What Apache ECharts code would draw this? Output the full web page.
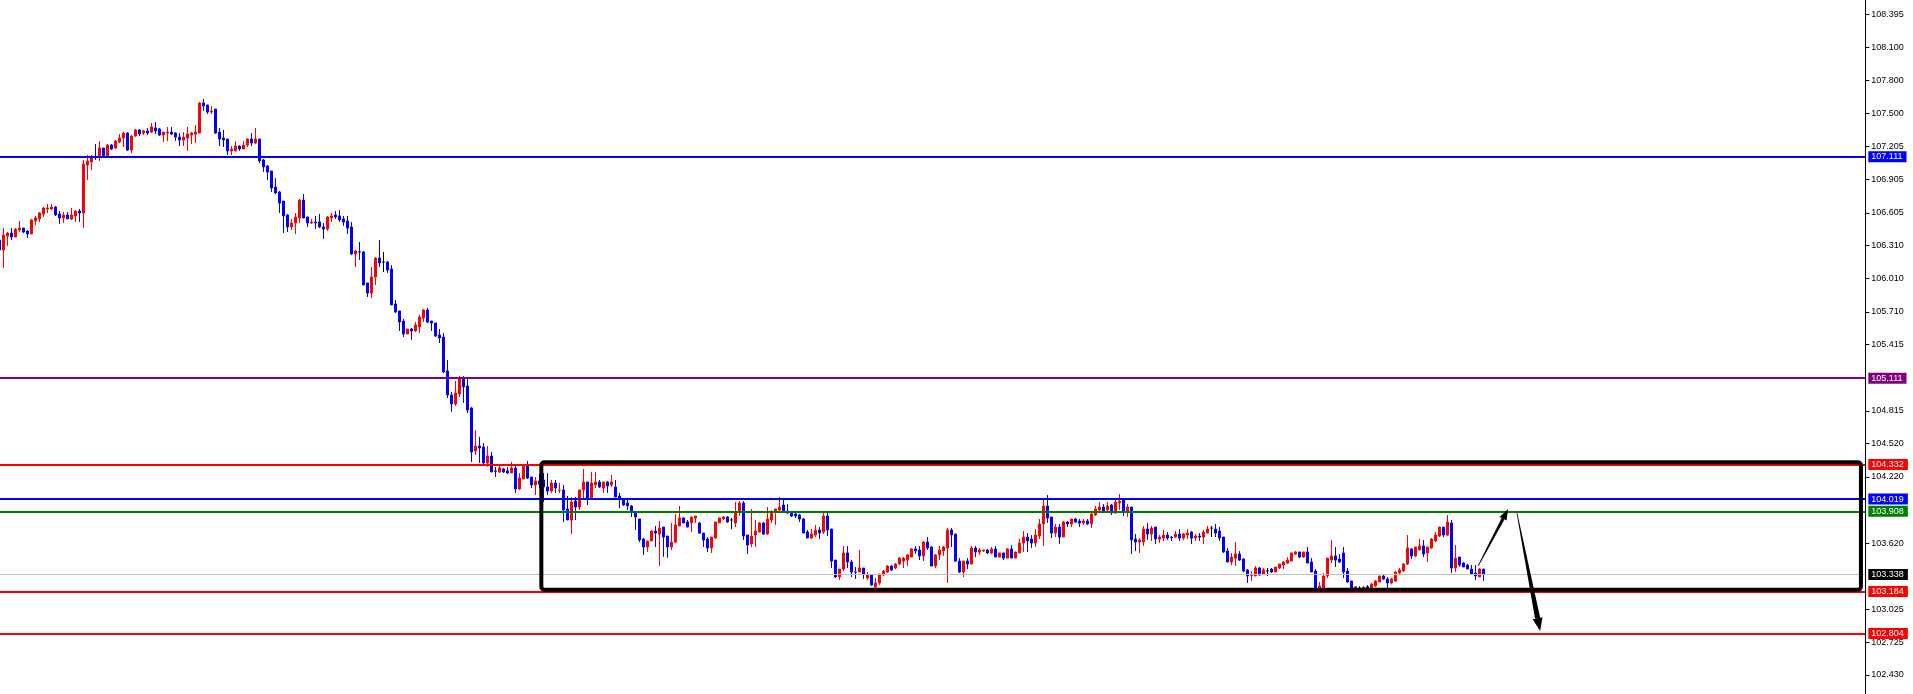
<!DOCTYPE html>
<html>
<head>
<meta charset="utf-8">
<script src="https://cdn.jsdelivr.net/npm/echarts@6.0.0/dist/echarts.min.js"></script>
<style>
html,body{margin:0;padding:0;background:#fff;}
#chart{width:1913px;height:694px;}
</style>
</head>
<body>
<div id="chart"></div>
<script>
// ---- candle values ----
const opens = [
106.359,106.269,106.395,106.422,106.386,106.449,106.467,106.440,106.413,106.531,
106.549,106.594,106.639,106.639,106.657,106.594,106.558,106.585,106.549,106.576,
106.621,106.603,107.037,107.064,107.109,107.109,107.190,107.109,107.217,107.190,
107.244,107.280,107.325,107.172,107.298,107.353,107.325,107.344,107.334,107.371,
107.362,107.307,107.325,107.334,107.325,107.289,107.262,107.280,107.307,107.316,
107.325,107.597,107.579,107.515,107.542,107.334,107.280,107.271,107.163,107.163,
107.208,107.181,107.217,107.271,107.235,107.271,107.082,107.028,106.982,106.838,
106.793,106.711,106.585,106.477,106.513,106.558,106.720,106.567,106.513,106.522,
106.522,106.477,106.458,106.558,106.585,106.576,106.549,106.531,106.477,106.233,
106.252,106.251,105.971,105.880,106.025,106.196,106.160,106.160,106.097,105.781,
105.718,105.627,105.510,105.555,105.537,105.573,105.654,105.727,105.627,105.609,
105.501,105.483,105.176,104.959,104.878,104.968,105.103,105.040,104.841,104.453,
104.498,104.489,104.345,104.408,104.273,104.264,104.291,104.273,104.255,104.300,
104.110,104.200,104.318,104.218,104.146,104.182,104.191,104.128,104.092,104.164,
104.098,104.101,103.929,103.830,104.001,103.947,104.101,104.173,104.028,104.146,
104.173,104.119,104.173,104.146,104.128,104.046,104.019,103.983,103.956,103.893,
103.839,103.658,103.586,103.640,103.730,103.703,103.766,103.685,103.586,103.631,
103.776,103.848,103.812,103.803,103.848,103.803,103.712,103.658,103.577,103.667,
103.803,103.839,103.857,103.830,103.803,103.902,103.983,103.694,103.613,103.694,
103.721,103.803,103.703,103.830,103.911,103.920,103.965,103.911,103.902,103.884,
103.875,103.839,103.721,103.667,103.694,103.739,103.721,103.866,103.748,103.468,
103.315,103.387,103.532,103.450,103.360,103.360,103.396,103.306,103.333,103.225,
103.261,103.333,103.360,103.414,103.396,103.432,103.459,103.468,103.495,103.568,
103.559,103.505,103.631,103.586,103.414,103.514,103.550,103.577,103.739,103.703,
103.459,103.360,103.459,103.432,103.577,103.541,103.550,103.559,103.532,103.568,
103.495,103.532,103.486,103.568,103.486,103.532,103.622,103.676,103.658,103.622,
103.685,103.794,103.956,103.857,103.712,103.766,103.676,103.812,103.794,103.839,
103.821,103.803,103.821,103.794,103.875,103.920,103.947,103.920,103.965,103.893,
103.983,104.019,103.902,103.947,103.658,103.631,103.631,103.748,103.703,103.766,
103.658,103.667,103.694,103.674,103.676,103.703,103.667,103.694,103.721,103.667,
103.685,103.676,103.712,103.757,103.748,103.730,103.676,103.550,103.450,103.486,
103.523,103.477,103.378,103.330,103.324,103.396,103.342,103.369,103.387,103.360,
103.396,103.423,103.441,103.459,103.523,103.541,103.495,103.541,103.450,103.369,
103.215,103.215,103.324,103.468,103.505,103.477,103.532,103.369,103.279,103.213,
103.213,103.213,103.227,103.215,103.233,103.270,103.324,103.297,103.261,103.279,
103.351,103.369,103.432,103.568,103.505,103.559,103.595,103.532,103.577,103.640,
103.685,103.766,103.694,103.803,103.396,103.495,103.441,103.423,103.387,103.351,
103.315,103.387
];
const closes = [
106.269,106.404,106.422,106.386,106.458,106.467,106.431,106.413,106.540,106.558,
106.603,106.648,106.648,106.657,106.585,106.558,106.585,106.549,106.585,106.621,
106.603,107.046,107.073,107.100,107.100,107.190,107.109,107.217,107.181,107.253,
107.280,107.325,107.172,107.298,107.353,107.316,107.344,107.325,107.380,107.344,
107.307,107.334,107.334,107.316,107.289,107.262,107.289,107.316,107.325,107.334,
107.597,107.570,107.515,107.524,107.325,107.271,107.262,107.163,107.181,107.208,
107.181,107.217,107.271,107.235,107.271,107.073,107.019,106.973,106.829,106.784,
106.693,106.576,106.477,106.513,106.567,106.720,106.558,106.513,106.522,106.513,
106.477,106.458,106.567,106.576,106.567,106.540,106.522,106.467,106.233,106.260,
106.250,105.953,105.880,106.025,106.196,106.151,106.160,106.088,105.772,105.709,
105.618,105.510,105.555,105.537,105.591,105.663,105.727,105.618,105.609,105.492,
105.474,105.167,104.959,104.878,104.977,105.103,105.031,104.823,104.444,104.498,
104.480,104.345,104.408,104.264,104.270,104.300,104.264,104.255,104.300,104.110,
104.209,104.318,104.209,104.146,104.182,104.155,104.128,104.092,104.164,104.119,
104.101,103.920,103.830,103.992,103.947,104.101,104.173,104.028,104.164,104.173,
104.128,104.173,104.137,104.173,104.037,104.019,103.965,103.956,103.902,103.857,
103.649,103.586,103.640,103.730,103.712,103.757,103.676,103.586,103.631,103.785,
103.848,103.803,103.766,103.857,103.866,103.712,103.649,103.577,103.676,103.812,
103.848,103.857,103.812,103.830,103.902,103.983,103.685,103.604,103.685,103.730,
103.803,103.703,103.839,103.911,103.929,103.947,103.911,103.893,103.866,103.866,
103.839,103.712,103.667,103.703,103.739,103.712,103.866,103.739,103.459,103.315,
103.387,103.532,103.450,103.360,103.357,103.396,103.342,103.333,103.243,103.261,
103.342,103.369,103.414,103.378,103.432,103.486,103.486,103.514,103.568,103.550,
103.505,103.631,103.577,103.414,103.514,103.559,103.586,103.739,103.694,103.459,
103.360,103.459,103.432,103.577,103.541,103.559,103.559,103.532,103.568,103.495,
103.532,103.486,103.568,103.486,103.541,103.622,103.676,103.640,103.622,103.694,
103.794,103.956,103.848,103.712,103.766,103.676,103.812,103.794,103.839,103.812,
103.803,103.821,103.794,103.884,103.929,103.947,103.902,103.956,103.893,103.992,
104.001,103.902,103.947,103.649,103.631,103.649,103.748,103.703,103.757,103.658,
103.676,103.694,103.667,103.670,103.703,103.667,103.703,103.712,103.667,103.685,
103.676,103.721,103.748,103.757,103.712,103.667,103.541,103.450,103.495,103.523,
103.468,103.369,103.324,103.333,103.396,103.333,103.378,103.369,103.360,103.405,
103.432,103.450,103.468,103.532,103.541,103.495,103.541,103.441,103.360,103.215,
103.233,103.324,103.486,103.505,103.468,103.450,103.360,103.270,103.215,103.227,
103.209,103.222,103.212,103.251,103.279,103.324,103.297,103.261,103.297,103.360,
103.378,103.432,103.577,103.505,103.586,103.595,103.523,103.586,103.658,103.694,
103.766,103.694,103.812,103.396,103.486,103.423,103.405,103.387,103.342,103.324,
103.387,103.338
];
const highs = [
106.377,106.467,106.431,106.467,106.467,106.531,106.467,106.449,106.549,106.576,
106.612,106.657,106.684,106.684,106.666,106.621,106.612,106.612,106.648,106.630,
106.639,107.082,107.127,107.127,107.226,107.253,107.190,107.226,107.226,107.262,
107.316,107.334,107.334,107.307,107.362,107.362,107.353,107.371,107.416,107.425,
107.371,107.334,107.380,107.380,107.334,107.325,107.334,107.380,107.334,107.398,
107.606,107.633,107.579,107.570,107.542,107.371,107.353,107.271,107.208,107.253,
107.217,107.253,107.280,107.325,107.371,107.271,107.091,107.037,106.982,106.919,
106.802,106.711,106.594,106.549,106.603,106.729,106.774,106.567,106.549,106.576,
106.594,106.513,106.576,106.603,106.621,106.630,106.576,106.576,106.522,106.269,
106.341,106.260,105.971,106.115,106.205,106.359,106.251,106.169,106.133,105.817,
105.718,105.645,105.555,105.564,105.618,105.681,105.736,105.745,105.627,105.609,
105.555,105.519,105.275,104.986,105.085,105.130,105.130,105.121,104.850,104.643,
104.580,104.525,104.498,104.444,104.309,104.318,104.300,104.309,104.354,104.318,
104.255,104.318,104.363,104.218,104.218,104.246,104.254,104.254,104.191,104.191,
104.164,104.146,104.047,104.037,104.037,104.101,104.291,104.173,104.264,104.264,
104.191,104.173,104.182,104.237,104.191,104.074,104.028,104.010,103.965,103.893,
103.839,103.667,103.640,103.739,103.776,103.821,103.766,103.685,103.803,103.884,
103.956,103.857,103.830,103.857,103.866,103.812,103.712,103.676,103.676,103.812,
103.848,103.866,103.866,103.848,103.992,104.001,104.001,103.694,103.929,103.830,
103.812,103.812,103.947,103.911,103.929,104.037,104.019,103.974,103.902,103.893,
103.884,103.848,103.739,103.748,103.785,103.766,103.902,103.902,103.748,103.468,
103.387,103.595,103.595,103.468,103.405,103.559,103.396,103.360,103.342,103.306,
103.342,103.378,103.423,103.423,103.441,103.495,103.495,103.523,103.577,103.595,
103.595,103.640,103.676,103.595,103.523,103.595,103.595,103.757,103.757,103.703,
103.486,103.459,103.486,103.595,103.595,103.577,103.559,103.568,103.586,103.595,
103.532,103.532,103.577,103.604,103.541,103.658,103.730,103.712,103.694,103.748,
103.839,104.019,104.056,103.857,103.794,103.794,103.821,103.821,103.839,103.848,
103.839,103.839,103.839,103.893,103.956,103.992,103.974,103.992,103.974,104.019,
104.064,104.028,103.974,103.947,103.703,103.667,103.776,103.803,103.776,103.766,
103.694,103.739,103.721,103.685,103.730,103.748,103.712,103.748,103.730,103.703,
103.712,103.739,103.776,103.776,103.794,103.766,103.676,103.577,103.532,103.631,
103.550,103.486,103.387,103.369,103.414,103.405,103.396,103.396,103.396,103.405,
103.432,103.459,103.495,103.532,103.550,103.541,103.541,103.586,103.486,103.387,
103.270,103.351,103.486,103.649,103.586,103.523,103.586,103.396,103.279,103.233,
103.233,103.233,103.242,103.261,103.288,103.324,103.333,103.315,103.306,103.369,
103.396,103.441,103.694,103.577,103.586,103.658,103.649,103.586,103.667,103.721,
103.766,103.766,103.875,103.830,103.604,103.495,103.450,103.432,103.423,103.423,
103.396,103.387
];
const lows = [
106.251,106.106,106.305,106.359,106.386,106.431,106.422,106.377,106.413,106.495,
106.522,106.567,106.603,106.630,106.576,106.504,106.513,106.549,106.540,106.522,
106.522,106.467,106.901,106.991,107.082,107.073,107.109,107.109,107.172,107.181,
107.235,107.199,107.163,107.145,107.289,107.298,107.307,107.307,107.325,107.316,
107.298,107.244,107.253,107.307,107.253,107.208,107.208,107.163,107.226,107.235,
107.325,107.524,107.497,107.497,107.316,107.208,107.199,107.127,107.127,107.163,
107.163,107.181,107.199,107.208,107.226,107.055,106.973,106.901,106.793,106.775,
106.603,106.422,106.431,106.449,106.413,106.513,106.558,106.477,106.504,106.458,
106.467,106.368,106.440,106.522,106.549,106.522,106.486,106.413,106.224,106.115,
106.178,105.953,105.844,105.835,105.953,106.115,106.070,106.061,105.772,105.700,
105.537,105.483,105.510,105.456,105.528,105.519,105.618,105.609,105.537,105.483,
105.429,105.158,104.932,104.806,104.860,104.941,104.887,104.796,104.354,104.417,
104.345,104.336,104.309,104.264,104.218,104.255,104.255,104.246,104.255,104.074,
104.101,104.200,104.200,104.119,104.056,104.119,103.992,104.056,104.074,104.074,
104.074,103.812,103.830,103.703,103.830,103.920,104.028,103.965,104.010,104.119,
104.119,104.074,104.074,104.128,104.037,103.938,103.956,103.920,103.857,103.739,
103.631,103.514,103.541,103.640,103.586,103.414,103.496,103.487,103.559,103.622,
103.776,103.803,103.766,103.721,103.803,103.703,103.586,103.541,103.532,103.658,
103.803,103.830,103.803,103.748,103.766,103.866,103.649,103.523,103.586,103.586,
103.721,103.694,103.694,103.803,103.785,103.911,103.911,103.884,103.857,103.848,
103.812,103.712,103.667,103.658,103.676,103.658,103.703,103.685,103.396,103.306,
103.288,103.369,103.396,103.315,103.297,103.360,103.297,103.288,103.234,103.215,
103.243,103.324,103.351,103.369,103.387,103.423,103.396,103.414,103.495,103.523,
103.468,103.459,103.559,103.414,103.396,103.468,103.505,103.261,103.586,103.450,
103.351,103.315,103.387,103.432,103.495,103.514,103.541,103.523,103.523,103.495,
103.495,103.468,103.486,103.486,103.486,103.532,103.541,103.541,103.577,103.586,
103.658,103.595,103.803,103.667,103.676,103.613,103.676,103.766,103.766,103.803,
103.766,103.785,103.785,103.757,103.866,103.902,103.902,103.902,103.875,103.884,
103.920,103.866,103.857,103.523,103.550,103.532,103.595,103.649,103.640,103.613,
103.622,103.640,103.649,103.640,103.667,103.640,103.649,103.658,103.613,103.640,
103.640,103.613,103.712,103.676,103.676,103.640,103.532,103.450,103.423,103.414,
103.459,103.360,103.261,103.279,103.324,103.324,103.333,103.324,103.351,103.360,
103.387,103.387,103.432,103.459,103.514,103.486,103.486,103.441,103.360,103.215,
103.206,103.215,103.306,103.441,103.405,103.441,103.306,103.261,103.179,103.170,
103.170,103.197,103.206,103.206,103.224,103.270,103.288,103.215,103.252,103.270,
103.342,103.360,103.423,103.477,103.495,103.559,103.495,103.450,103.568,103.631,
103.676,103.676,103.685,103.351,103.360,103.405,103.405,103.387,103.342,103.288,
103.315,103.279
];

// ---- axis / annotation values ----
const slotMin = 0.1667;                // first (partly hidden) candle sits at the left edge
const slotMax = 466.5;                 // empty chart-shift space after the last candle
const priceMin = 102.258;
const priceMax = 108.527;
const priceTicks = [108.395,108.100,107.800,107.500,107.205,106.905,106.605,106.310,106.010,105.710,105.415,104.815,104.520,104.220,103.620,103.025,102.725,102.430];
const levelPrices = [107.111, 105.111, 104.332, 104.019, 103.908, 103.184, 102.804];
const levelColors = ['#0000ff', '#800080', '#ff0000', '#0000ff', '#008000', '#ff0000', '#ff0000'];
const bidPrice = 103.338;
const rangeBox = [135.5, 104.351, 465.4, 103.200];      // [slot, price, slot, price]
const arrowUp = [369.7, 103.414, 377.2, 103.929];       // start -> tip
const arrowDown = [379.4, 103.893, 385.2, 102.827];

const candleData = opens.map((o, i) => [i, o, closes[i], lows[i], highs[i]]);

const FONT = 'Liberation Sans';

const levelLines = levelPrices.map((v, i) => ({
  yAxis: v,
  lineStyle: {color: levelColors[i], width: 2, type: 'solid'},
  label: {backgroundColor: levelColors[i]}
}));
levelLines.push({
  yAxis: bidPrice,
  lineStyle: {color: '#c0c0c0', width: 1, type: 'solid'},
  label: {backgroundColor: '#000000'}
});

function arrowGroup(api, a, w0, w1, headHalf, headLen) {
  const p0 = api.coord([a[0], a[1]]);
  const p1 = api.coord([a[2], a[3]]);
  const dx = p1[0] - p0[0], dy = p1[1] - p0[1];
  const len = Math.hypot(dx, dy);
  const ux = dx / len, uy = dy / len, nx = -uy, ny = ux;
  const bx = p1[0] - ux * headLen, by = p1[1] - uy * headLen;
  return [
    {type: 'polygon', shape: {points: [
      [p0[0] + nx * w0, p0[1] + ny * w0],
      [bx + nx * w1, by + ny * w1],
      [bx - nx * w1, by - ny * w1],
      [p0[0] - nx * w0, p0[1] - ny * w0]
    ]}, style: {fill: '#000'}},
    {type: 'polygon', shape: {points: [
      [bx + nx * headHalf, by + ny * headHalf],
      [p1[0], p1[1]],
      [bx - nx * headHalf, by - ny * headHalf]
    ]}, style: {fill: '#000'}}
  ];
}

const chart = echarts.init(document.getElementById('chart'), null, {renderer: 'canvas'});
chart.setOption({
  animation: false,
  backgroundColor: '#ffffff',
  grid: {left: 0, right: 47.67, top: 0, bottom: 0, containLabel: false},
  xAxis: {type: 'value', min: slotMin, max: slotMax, show: false, splitLine: {show: false}},
  yAxis: {
    type: 'value', position: 'right', min: priceMin, max: priceMax,
    splitLine: {show: false},
    axisLine: {show: true, onZero: false, lineStyle: {color: '#000', width: 1}},
    axisTick: {show: true, length: 4, lineStyle: {color: '#000', width: 1}, customValues: priceTicks},
    axisLabel: {
      customValues: priceTicks, color: '#000', fontSize: 9, fontFamily: FONT, margin: 6,
      formatter: v => Number(v).toFixed(3)
    }
  },
  series: [
    {
      type: 'candlestick',
      data: candleData,
      encode: {x: 0, y: [1, 2, 3, 4]},
      barWidth: 2,
      clip: true,
      itemStyle: {
        color: '#ff0000', color0: '#0000ff',
        borderColor: '#ff0000', borderColor0: '#0000ff',
        borderColorDoji: '#000000', borderWidth: 1
      },
      markLine: {
        silent: true, animation: false, symbol: ['none', 'none'], precision: 3,
        label: {
          show: true, position: 'end', distance: 3,
          formatter: p => Number(p.value).toFixed(3),
          color: '#ffffff', fontSize: 9, fontFamily: FONT,
          lineHeight: 10, padding: [1, 4, 0, 3]
        },
        emphasis: {disabled: true},
        data: levelLines
      }
    },
    {
      type: 'custom',
      z: 5, silent: true,
      data: [[0, 104]],
      renderItem: function (params, api) {
        const a = api.coord([rangeBox[0], rangeBox[1]]);
        const b = api.coord([rangeBox[2], rangeBox[3]]);
        const children = [
          {type: 'rect', shape: {x: a[0], y: a[1], width: b[0] - a[0], height: b[1] - a[1], r: 3},
           style: {fill: 'none', stroke: '#000', lineWidth: 4}}
        ];
        return {type: 'group', children: children
          .concat(arrowGroup(api, arrowUp, 0.35, 1.6, 4, 11))
          .concat(arrowGroup(api, arrowDown, 0.35, 2.6, 5, 13))};
      }
    }
  ]
});
</script>
</body>
</html>
